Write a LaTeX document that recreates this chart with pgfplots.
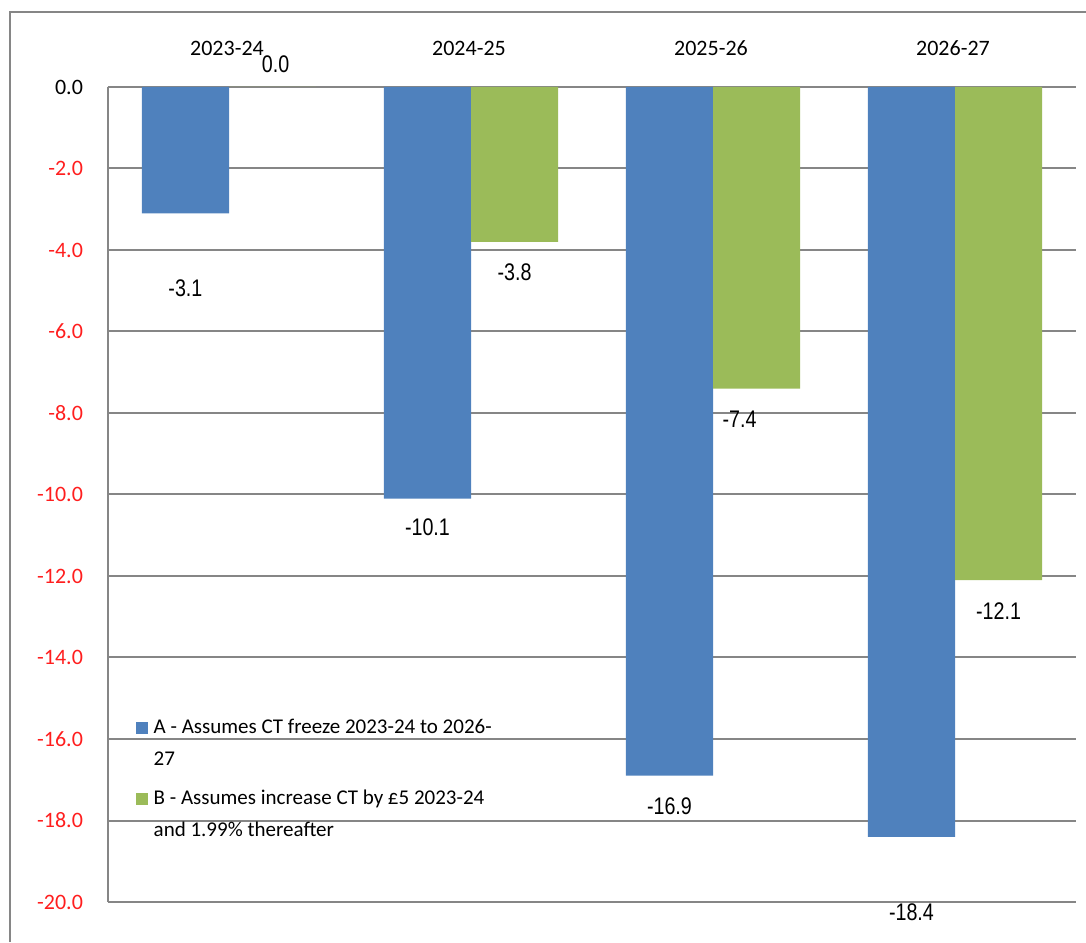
\documentclass[border=0pt]{standalone}
\usepackage{pgfplots}
\pgfplotsset{compat=1.18}
\usepackage{pgfplotstable}
\usepackage{fontspec}
\setmainfont{Carlito}
\newfontfamily\narrow[FakeStretch=0.82]{Liberation Sans}
\definecolor{barblue}{RGB}{79,129,189}
\definecolor{bargreen}{RGB}{155,187,89}
\definecolor{gridgray}{RGB}{134,134,134}
\definecolor{ticred}{RGB}{255,30,30}
\pgfplotstableread{
x y off xoff
0 -3.1 33 0
1 -10.1 10 0
2 -16.9 11 0
3 -18.4 33.5 0
}\seriesA
\pgfplotstableread{
x y off xoff
0 0.0 -16 1.5
1 -3.8 10.5 0
2 -7.4 11 -8.5
3 -12.1 11 0
}\seriesB
\begin{document}
\begin{tikzpicture}
\path[use as bounding box] (0,0) rectangle (543pt,471pt);
\draw[gridgray, line width=1pt] (5pt,0) -- (5pt,465pt) -- (543pt,465pt);
\begin{axis}[
  at={(54pt,20pt)}, anchor=south west,
  scale only axis, width=484pt, height=407.5pt,
  xmin=-0.5, xmax=3.5, ymin=-20, ymax=0,
  xtick={0,1,2,3},
  xticklabels={2023-24,2024-25,2025-26,2026-27},
  xticklabel pos=upper,
  x tick label style={font=\fontsize{11}{13}\selectfont, yshift=12pt, xshift=-1pt},
  ytick={-20,-18,...,0},
  yticklabel={\pgfmathparse{\tick<-0.01 ? 1 : 0}\ifnum\pgfmathresult=1 \textcolor{ticred}{\pgfmathprintnumber[fixed,fixed zerofill,precision=1]{\tick}}\else \pgfmathprintnumber[fixed,fixed zerofill,precision=1]{\tick}\fi},
  y tick label style={font=\fontsize{11}{12}\selectfont, xshift=-9pt},
  /pgf/number format/assume math mode=true,
  major tick length=0pt,
  ymajorgrids,
  grid style={gridgray, line width=1pt},
  axis x line*=top,
  axis y line*=left,
  axis line style={gridgray, line width=1pt},
  ybar, bar width=0.36,
  nodes near coords={\pgfmathprintnumber[fixed,fixed zerofill,precision=1]{\pgfplotspointmeta}},
  point meta=explicit,
  every node near coord/.append style={font=\narrow\fontsize{12}{13}\selectfont, anchor=north, inner sep=0pt, xshift=\xo pt, yshift=-\yo pt},
  legend style={draw=none, fill=none, at={(rel axis cs:0.022,0.235)}, anchor=north west,
    font=\fontsize{10.5}{16}\selectfont, cells={align=left, anchor=west},
    row sep=7pt},
  legend image code/.code={\fill[#1] (0pt,5pt) rectangle (6pt,11pt);},
  legend style={nodes={inner xsep=3pt}},
  clip=false,
]
\addplot[fill=barblue, draw=none, bar shift=-0.18,
  visualization depends on={\thisrow{off} \as \yo},
  visualization depends on={\thisrow{xoff} \as \xo}]
  table[x=x, y=y, meta=y] {\seriesA};
\addlegendentry{A - Assumes CT freeze 2023-24 to 2026-\\27}
\addplot[fill=bargreen, draw=none, bar shift=0.18,
  visualization depends on={\thisrow{off} \as \yo},
  visualization depends on={\thisrow{xoff} \as \xo}]
  table[x=x, y=y, meta=y] {\seriesB};
\addlegendentry{B - Assumes increase CT by £5 2023-24\\and 1.99\% thereafter}
\end{axis}
\end{tikzpicture}
\end{document}
